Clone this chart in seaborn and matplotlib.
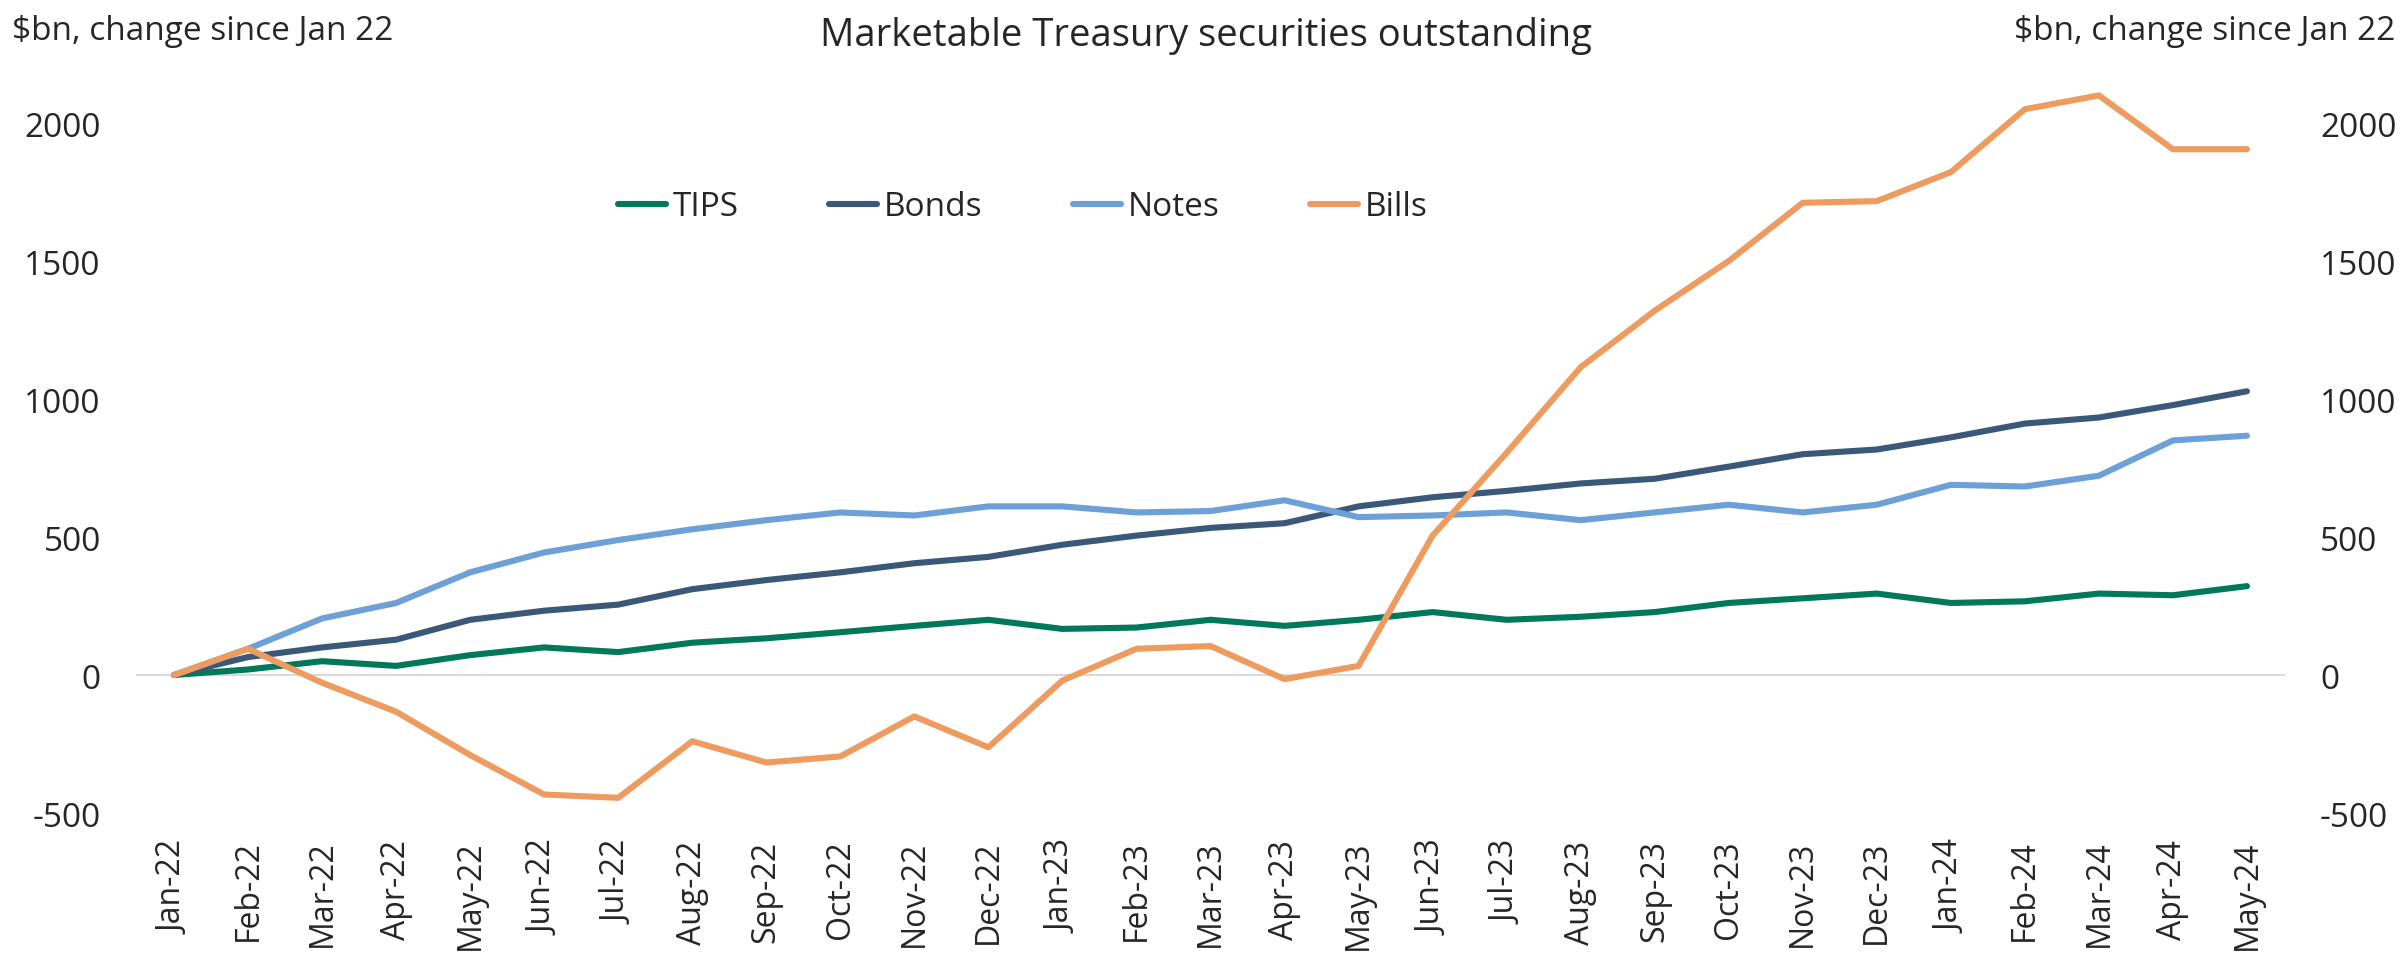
import matplotlib
matplotlib.use("Agg")
import matplotlib.pyplot as plt
import seaborn as sns
import pandas as pd

months = ["Jan-22", "Feb-22", "Mar-22", "Apr-22", "May-22", "Jun-22", "Jul-22", "Aug-22",
          "Sep-22", "Oct-22", "Nov-22", "Dec-22", "Jan-23", "Feb-23", "Mar-23", "Apr-23",
          "May-23", "Jun-23", "Jul-23", "Aug-23", "Sep-23", "Oct-23", "Nov-23", "Dec-23",
          "Jan-24", "Feb-24", "Mar-24", "Apr-24", "May-24"]

tips = [0, 20, 50, 33, 72, 100, 83, 117, 133, 155, 178, 200, 167, 172, 200, 178,
        200, 228, 200, 211, 228, 261, 278, 295, 261, 267, 295, 289, 322]
bonds = [0, 65, 100, 128, 200, 233, 255, 311, 344, 372, 405, 428, 472, 505, 533, 550,
         611, 644, 667, 694, 711, 755, 800, 817, 861, 911, 933, 978, 1028]
notes = [0, 95, 205, 261, 372, 444, 489, 528, 561, 589, 578, 611, 611, 589, 594, 633,
         572, 578, 589, 561, 589, 617, 589, 617, 689, 683, 722, 850, 867]
bills = [0, 95, -28, -133, -290, -433, -445, -240, -317, -295, -150, -262, -20, 95, 105, -15,
         33, 505, 805, 1115, 1320, 1500, 1711, 1717, 1822, 2050, 2100, 1905, 1905]

series_names = ["TIPS", "Bonds", "Notes", "Bills"]
colors = {"TIPS": "#00785A", "Bonds": "#3A5878", "Notes": "#6CA0D6", "Bills": "#EE9B60"}

# long format table for seaborn
rows = []
for name, vals in zip(series_names, [tips, bonds, notes, bills]):
    for i, v in enumerate(vals):
        rows.append({"pos": i, "month": months[i], "series": name, "value": v})
df = pd.DataFrame(rows)

sns.set_style("white")
plt.rcParams["font.family"] = ["Open Sans", "DejaVu Sans"]
plt.rcParams["font.size"] = 24
plt.rcParams["axes.unicode_minus"] = False

fig = plt.figure(figsize=(24.02, 9.54), dpi=100)
ax = fig.add_axes([0.05703, 0.14675, 0.95087 - 0.05703, 0.9134 - 0.14675])

sns.lineplot(data=df, x="pos", y="value", hue="series", hue_order=series_names,
             palette=colors, linewidth=4.4, sort=False, ax=ax,
             solid_capstyle="round", solid_joinstyle="round")

ax.set_xlim(-0.5, len(months) - 0.5)
ax.set_ylim(-500, 2150)
ax.set_xlabel("")
ax.set_ylabel("")

# zero line with boundary ticks
for s in ["top", "left", "right"]:
    ax.spines[s].set_visible(False)
ax.spines["bottom"].set_position(("data", 0))
ax.spines["bottom"].set_color("#D9D9D9")
ax.spines["bottom"].set_linewidth(1.5)
ax.spines["bottom"].set_zorder(0)
ax.set_xticks([i - 0.5 for i in range(len(months) + 1)])
ax.tick_params(axis="x", direction="out", length=8.6, width=1.5, color="#D9D9D9",
               labelbottom=False)

ax.set_yticks([-500, 0, 500, 1000, 1500, 2000])
ax.tick_params(axis="y", length=0, pad=26, labelsize=24)

# right axis
ax2 = ax.twinx()
ax2.set_ylim(ax.get_ylim())
ax2.set_yticks([-500, 0, 500, 1000, 1500, 2000])
ax2.tick_params(axis="y", length=0, pad=26, labelsize=24)
for s in ax2.spines.values():
    s.set_visible(False)

# month labels at the bottom
sec = ax.secondary_xaxis(0)
sec.set_xticks(range(len(months)))
sec.set_xticklabels(months, rotation=90)
sec.tick_params(axis="x", length=0, pad=19, labelsize=23)
sec.spines["bottom"].set_visible(False)

handles, labels = ax.get_legend_handles_labels()
ax.get_legend().remove()
fig.legend(handles, labels, loc="center left", bbox_to_anchor=(618 / 2402, 1 - 208 / 954),
           ncol=4, frameon=False, handlelength=1.45, handletextpad=0.2, columnspacing=2.7,
           borderpad=0, borderaxespad=0, fontsize=24)

fig.text(0.5 + 5 / 2402, 1 - 36 / 954, "Marketable Treasury securities outstanding",
         ha="center", va="center", fontsize=27.5)
fig.text(12 / 2402, 1 - 31 / 954, "$bn, change since Jan 22", ha="left", va="center", fontsize=24)
fig.text(1 - 7 / 2402, 1 - 31 / 954, "$bn, change since Jan 22", ha="right", va="center",
         fontsize=24)

fig.savefig("out.png", dpi=100)
